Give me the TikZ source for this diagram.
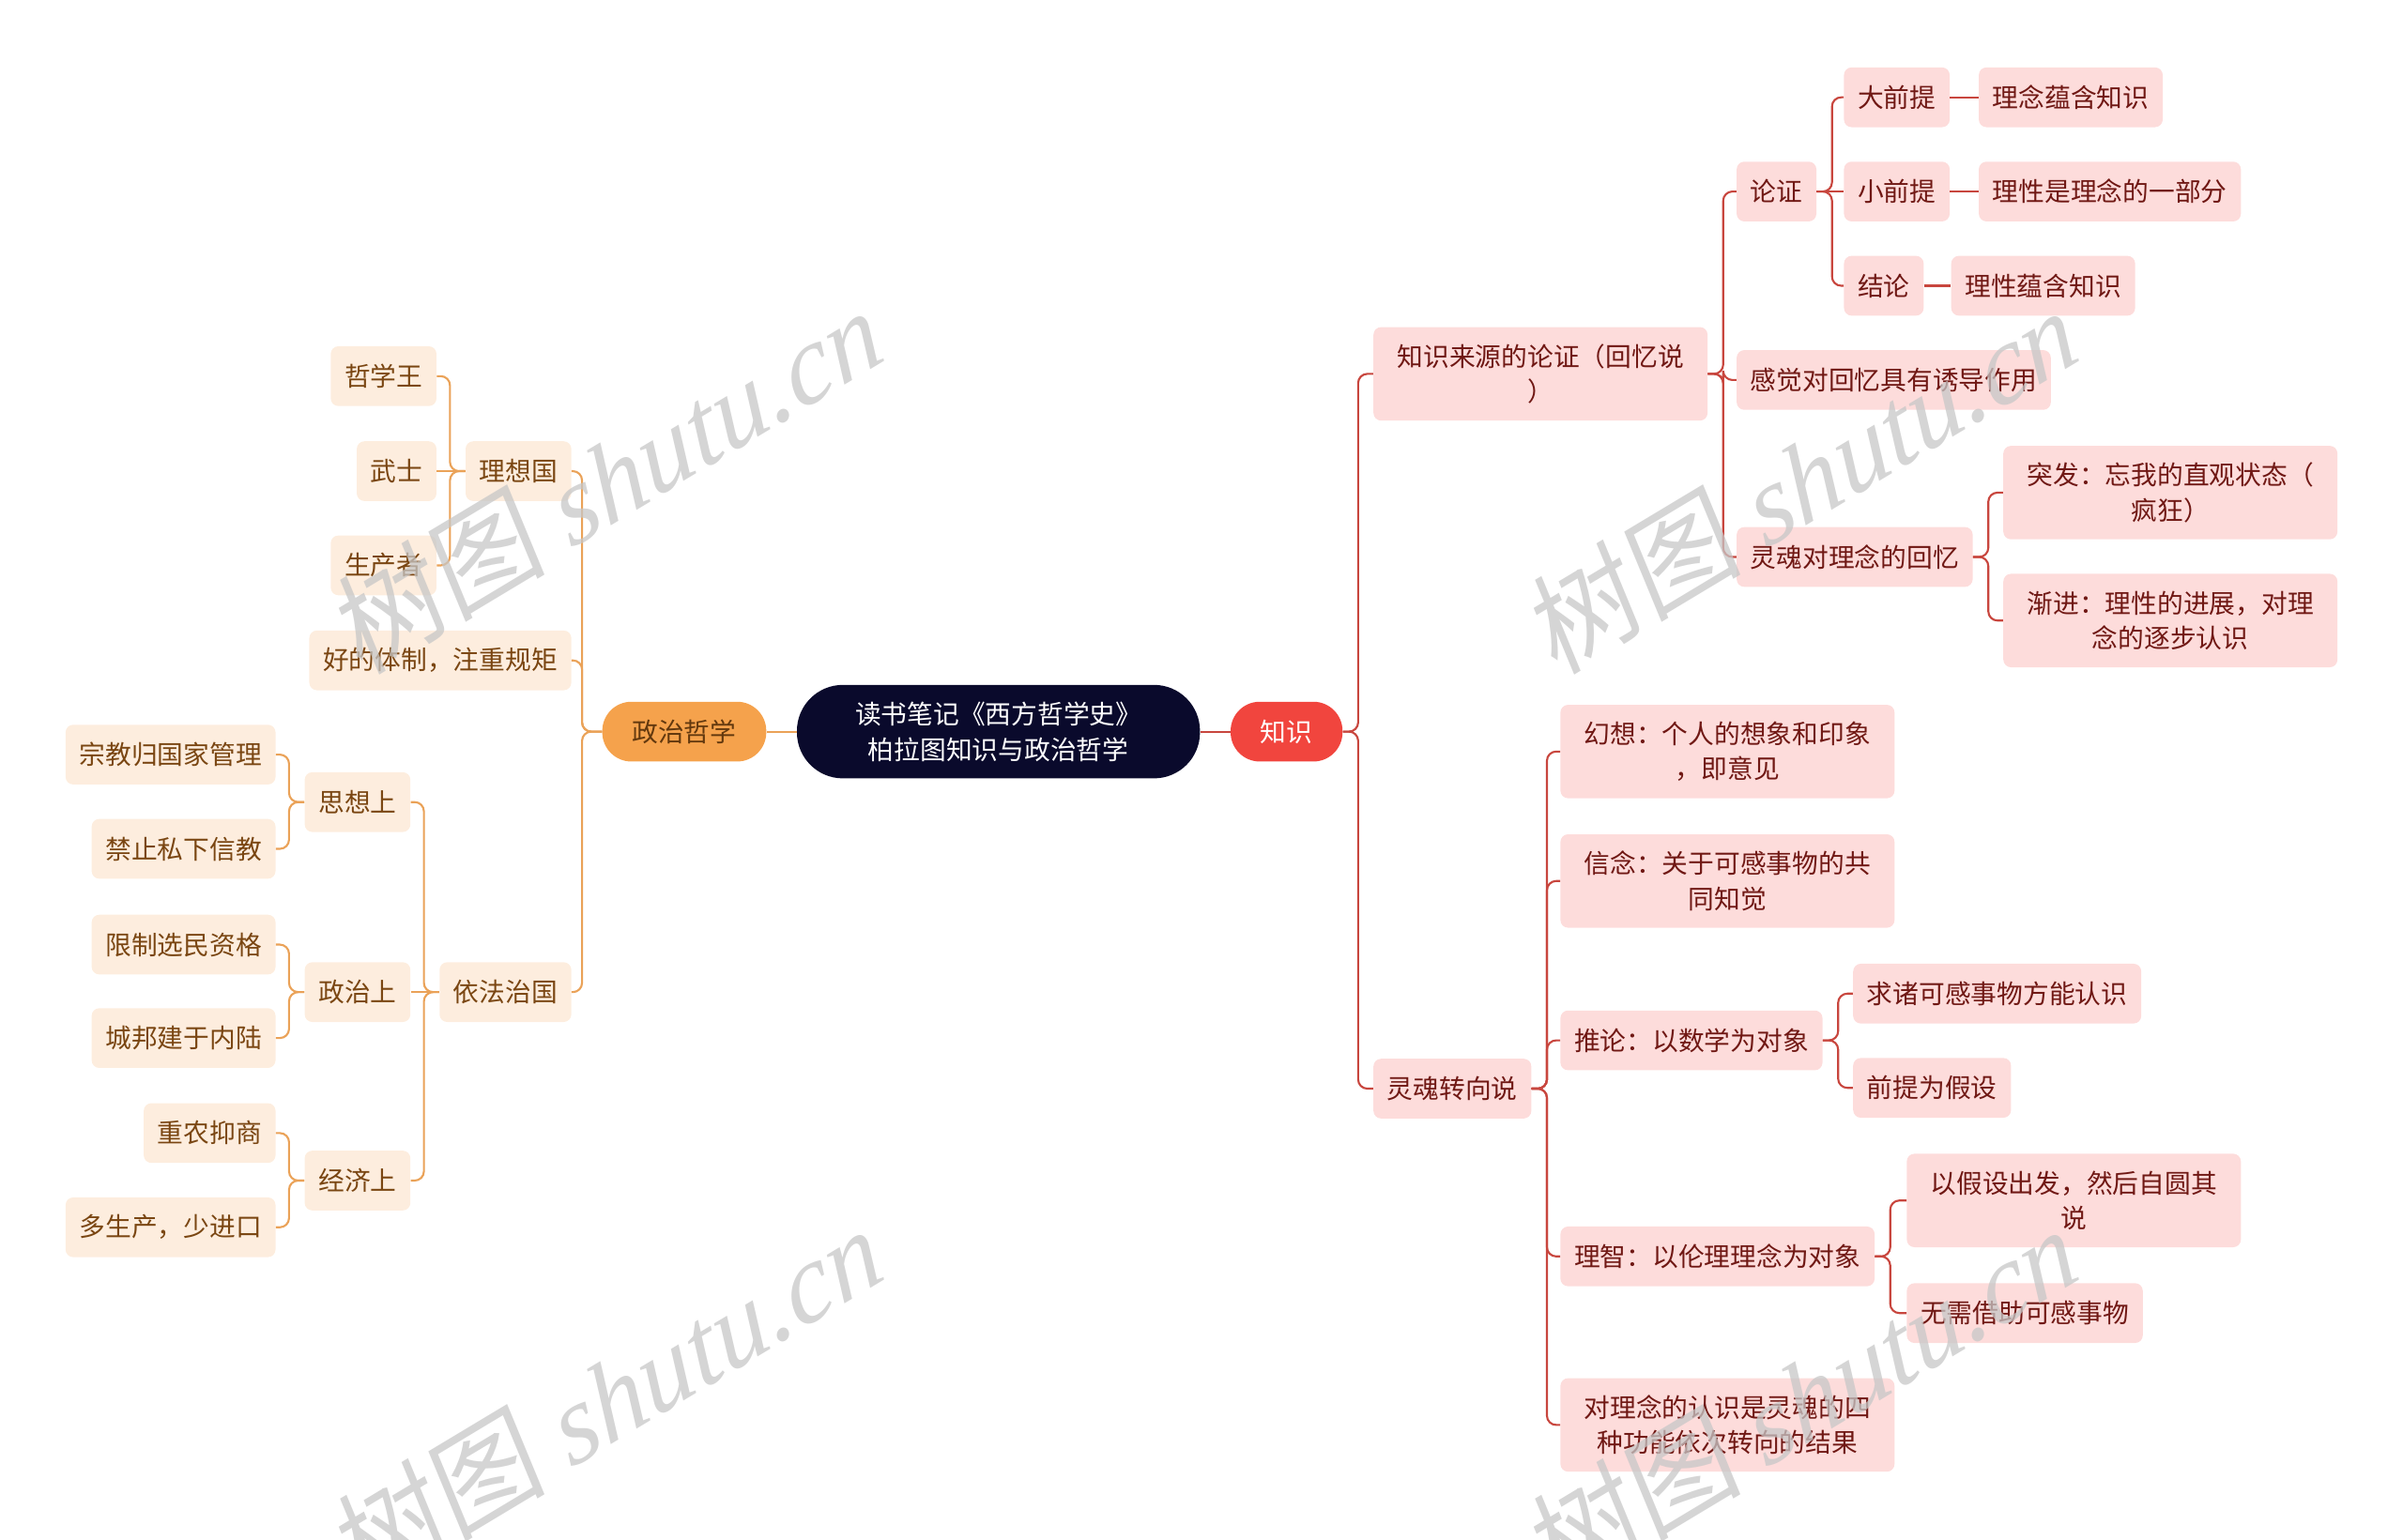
\documentclass[tikz,border=0pt]{standalone}
\usepackage{fontspec}
\setmainfont{Noto Sans CJK SC}
\newfontfamily\wmfont{Liberation Serif}
\usetikzlibrary{calc}
\definecolor{kdark}{RGB}{10,10,44}
\definecolor{kred}{RGB}{241,69,62}
\definecolor{korange}{RGB}{245,162,76}
\definecolor{kpink}{RGB}{253,220,219}
\definecolor{kpeach}{RGB}{253,237,222}
\definecolor{krtext}{RGB}{112,24,20}
\definecolor{kltext}{RGB}{122,70,18}
\definecolor{krline}{RGB}{200,70,62}
\definecolor{klline}{RGB}{234,162,88}
\newcommand\rbox[5]{\node[#5, anchor=west] (#1) at (#2,#3) {#4};}
\newcommand\lbox[5]{\node[#5, anchor=east] (#1) at (#2,#3) {#4};}
\newcommand\rlink[2]{\draw[rline] (#1.east) -- ++(10,0) |- (#2.west);}
\newcommand\llink[2]{\draw[lline] (#1.west) -- ++(-10,0) |- (#2.east);}
\newcommand\wmark[2]{\node[wmark, rotate=31, xslant=0.15] (#1) at #2 {树图 {\wmfont\itshape shutu.cn}};}

\begin{document}
\begin{tikzpicture}[x=1pt, y=-1pt,
	txt/.style={font=\fontsize{17}{23}\selectfont},
	rnode/.style={txt, fill=kpink, text=krtext, rounded corners=5pt, minimum height=39pt, inner xsep=9pt, inner ysep=0pt},
	rtwo/.style={rnode, align=center, minimum width=218pt, minimum height=61pt},
	lnode/.style={txt, fill=kpeach, text=kltext, rounded corners=5pt, minimum height=39pt, inner xsep=9pt, inner ysep=0pt},
	rline/.style={draw=krline, line width=1.3pt, rounded corners=6pt},
	lline/.style={draw=klline, line width=1.3pt, rounded corners=6pt},
	wmark/.style={font=\fontsize{72}{72}\selectfont, text=black!22, text opacity=0.75, inner sep=0pt}]
	\useasboundingbox (0,0) rectangle (1568,1005);
	\node[txt, fill=kdark, text=white, align=center, rounded corners=30pt, minimum width=263pt, minimum height=61pt, inner sep=0pt] (root) at (651.5,477.5) {读书笔记《西方哲学史》\\ 柏拉图知识与政治哲学};
	\node[txt, fill=korange, text=kltext!80!black, rounded corners=19pt, minimum width=107pt, minimum height=39pt, inner sep=0pt] (zzzx) at (446.5,477.5) {政治哲学};
	\node[txt, fill=kred, text=white, rounded corners=19pt, minimum width=73pt, minimum height=39pt, inner sep=0pt] (zs) at (839.5,477.5) {知识};
	\draw[lline] (root.west) -- (zzzx.east);
	\draw[rline] (root.east) -- (zs.west);
	\rbox{zsly}{896}{244}{知识来源的论证（回忆说\\）}{rtwo}
	\rbox{lhzx}{896}{710.5}{灵魂转向说}{rnode}
	\rbox{lz}{1133}{125}{论证}{rnode}
	\rbox{gj}{1133}{248}{感觉对回忆具有诱导作用}{rnode}
	\rbox{lhhy}{1133}{363.5}{灵魂对理念的回忆}{rnode}
	\rbox{dqt}{1203}{63.5}{大前提}{rnode}
	\rbox{xqt}{1203}{125}{小前提}{rnode}
	\rbox{jl}{1203}{186.5}{结论}{rnode}
	\rbox{dqtk}{1291}{63.5}{理念蕴含知识}{rnode}
	\rbox{xqtk}{1291}{125}{理性是理念的一部分}{rnode}
	\rbox{jlk}{1273}{186.5}{理性蕴含知识}{rnode}
	\rbox{tf}{1307}{321.5}{突发：忘我的直观状态（\\疯狂）}{rtwo}
	\rbox{jj}{1307}{405}{渐进：理性的进展，对理\\念的逐步认识}{rtwo}
	\rbox{hx}{1018}{490.5}{幻想：个人的想象和印象\\，即意见}{rtwo}
	\rbox{xn}{1018}{575}{信念：关于可感事物的共\\同知觉}{rtwo}
	\rbox{tl}{1018}{679}{推论：以数学为对象}{rnode}
	\rbox{lzh}{1018}{820}{理智：以伦理理念为对象}{rnode}
	\rbox{dln}{1018}{930}{对理念的认识是灵魂的四\\种功能依次转向的结果}{rtwo}
	\rbox{tla}{1209}{648.5}{求诸可感事物方能认识}{rnode}
	\rbox{tlb}{1209}{710}{前提为假设}{rnode}
	\rbox{lza}{1244}{783.5}{以假设出发，然后自圆其\\说}{rtwo}
	\rbox{lzb}{1244}{857}{无需借助可感事物}{rnode}
	\lbox{lxg}{373}{307.5}{理想国}{lnode}
	\lbox{htz}{373}{431}{好的体制，注重规矩}{lnode}
	\lbox{yfzg}{373}{647.5}{依法治国}{lnode}
	\lbox{zxw}{285}{245.5}{哲学王}{lnode}
	\lbox{ws}{285}{307.5}{武士}{lnode}
	\lbox{scz}{285}{369}{生产者}{lnode}
	\lbox{sxs}{268}{523.5}{思想上}{lnode}
	\lbox{zzs}{268}{647.5}{政治上}{lnode}
	\lbox{jjs}{268}{770.5}{经济上}{lnode}
	\lbox{zj}{180}{492.5}{宗教归国家管理}{lnode}
	\lbox{jz}{180}{554}{禁止私下信教}{lnode}
	\lbox{xz}{180}{616.5}{限制选民资格}{lnode}
	\lbox{cb}{180}{677.5}{城邦建于内陆}{lnode}
	\lbox{zn}{180}{739.5}{重农抑商}{lnode}
	\lbox{dsc}{180}{801}{多生产，少进口}{lnode}
	\rlink{zs}{zsly}
	\rlink{zs}{lhzx}
	\rlink{zsly}{lz}
	\rlink{zsly}{gj}
	\rlink{zsly}{lhhy}
	\rlink{lz}{dqt}
	\draw[rline] (lz.east) -- (xqt.west);
	\rlink{lz}{jl}
	\draw[rline] (dqt.east) -- (dqtk.west);
	\draw[rline] (xqt.east) -- (xqtk.west);
	\draw[rline] (jl.east) -- (jlk.west);
	\rlink{lhhy}{tf}
	\rlink{lhhy}{jj}
	\rlink{lhzx}{hx}
	\rlink{lhzx}{xn}
	\rlink{lhzx}{tl}
	\rlink{lhzx}{lzh}
	\rlink{lhzx}{dln}
	\rlink{tl}{tla}
	\rlink{tl}{tlb}
	\rlink{lzh}{lza}
	\rlink{lzh}{lzb}
	\draw[lline] (zzzx.west) -- ++(-13,0) |- (lxg.east);
	\draw[lline] (zzzx.west) -- ++(-13,0) |- (htz.east);
	\draw[lline] (zzzx.west) -- ++(-13,0) |- (yfzg.east);
	\llink{lxg}{zxw}
	\draw[lline] (lxg.west) -- (ws.east);
	\llink{lxg}{scz}
	\llink{yfzg}{sxs}
	\draw[lline] (yfzg.west) -- (zzs.east);
	\llink{yfzg}{jjs}
	\llink{sxs}{zj}
	\llink{sxs}{jz}
	\llink{zzs}{xz}
	\llink{zzs}{cb}
	\llink{jjs}{zn}
	\llink{jjs}{dsc}
	\wmark{wma}{(397,312)}
	\wmark{wmb}{(397,912)}
	\wmark{wmc}{(1177,312)}
	\wmark{wmd}{(1177,912)}
\end{tikzpicture}
\end{document}
